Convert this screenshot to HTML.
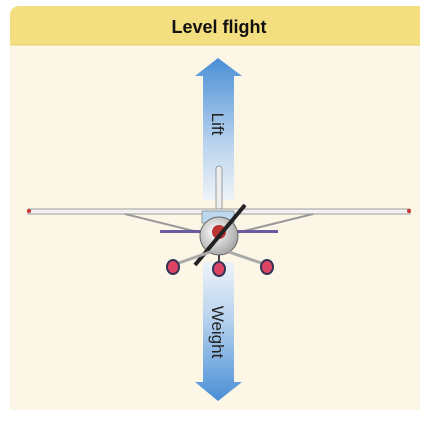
<!DOCTYPE html>
<html><head><style>
body{margin:0;background:#fff;width:423px;height:418px;overflow:hidden;font-family:"Liberation Sans",sans-serif}
</style></head><body>
<svg width="423" height="418">
<defs>
<linearGradient id="up" x1="0" y1="0" x2="0" y2="1"><stop offset="0" stop-color="#4a8fd6"/><stop offset="0.6" stop-color="#b9d3ee"/><stop offset="1" stop-color="#eef3f8"/></linearGradient>
<linearGradient id="dn" x1="0" y1="1" x2="0" y2="0"><stop offset="0" stop-color="#4a8fd6"/><stop offset="0.6" stop-color="#b9d3ee"/><stop offset="1" stop-color="#eef3f8"/></linearGradient>
<radialGradient id="fus" cx="0.4" cy="0.4" r="0.6"><stop offset="0" stop-color="#fff"/><stop offset="1" stop-color="#aaa"/></radialGradient>
</defs>
<path d="M10 45 H420 V410 H10 Z" fill="#fcf6e7"/>
<path d="M10 45 V16 Q10 6 20 6 H420 V45 Z" fill="#f3df7f"/>
<line x1="10" y1="45" x2="420" y2="45" stroke="#e6cf6a" stroke-width="1"/>
<text x="219" y="33" text-anchor="middle" font-size="18" font-weight="bold" fill="#111">Level flight</text>
<g>
<path d="M218 58 L242 76 L234 76 L234 200 L203 200 L203 76 L195 76 Z" fill="url(#up)"/>
<text transform="translate(212,124) rotate(90)" font-size="17" fill="#222" text-anchor="middle">Lift</text>
</g>
<g>
<path d="M218 401 L242 382 L234 382 L234 262 L203 262 L203 382 L195 382 Z" fill="url(#dn)"/>
<text transform="translate(212,332) rotate(90)" font-size="17" fill="#222" text-anchor="middle">Weight</text>
</g>
<g>
<rect x="216" y="166" width="6" height="48" rx="3" fill="#eee" stroke="#888" stroke-width="0.8"/>
<rect x="28" y="209" width="382" height="5" fill="#f2f2f2" stroke="#888" stroke-width="0.8"/>
<circle cx="29" cy="211" r="2" fill="#c33"/><circle cx="409" cy="211" r="2" fill="#c33"/>
<line x1="125" y1="214" x2="202" y2="233" stroke="#999" stroke-width="2"/>
<line x1="313" y1="214" x2="236" y2="233" stroke="#999" stroke-width="2"/>
<rect x="160" y="230" width="118" height="3" fill="#6a5ba0"/>
<rect x="202" y="211" width="32" height="12" fill="#bcd9ef" stroke="#888" stroke-width="0.8"/>
<circle cx="219" cy="236" r="19" fill="url(#fus)" stroke="#666"/>
<circle cx="219" cy="232" r="7" fill="#b33"/>
<line x1="195" y1="265" x2="245" y2="205" stroke="#222" stroke-width="4"/>
<line x1="210" y1="252" x2="176" y2="264" stroke="#aaa" stroke-width="3"/>
<line x1="229" y1="252" x2="264" y2="264" stroke="#aaa" stroke-width="3"/>
<line x1="219" y1="255" x2="219" y2="264" stroke="#444" stroke-width="2"/>
<ellipse cx="173" cy="267" rx="6" ry="7" fill="#d46" stroke="#335" stroke-width="2"/>
<ellipse cx="219" cy="269" rx="6" ry="7" fill="#d46" stroke="#335" stroke-width="2"/>
<ellipse cx="267" cy="267" rx="6" ry="7" fill="#d46" stroke="#335" stroke-width="2"/>
</g>
</svg>
</body></html>
